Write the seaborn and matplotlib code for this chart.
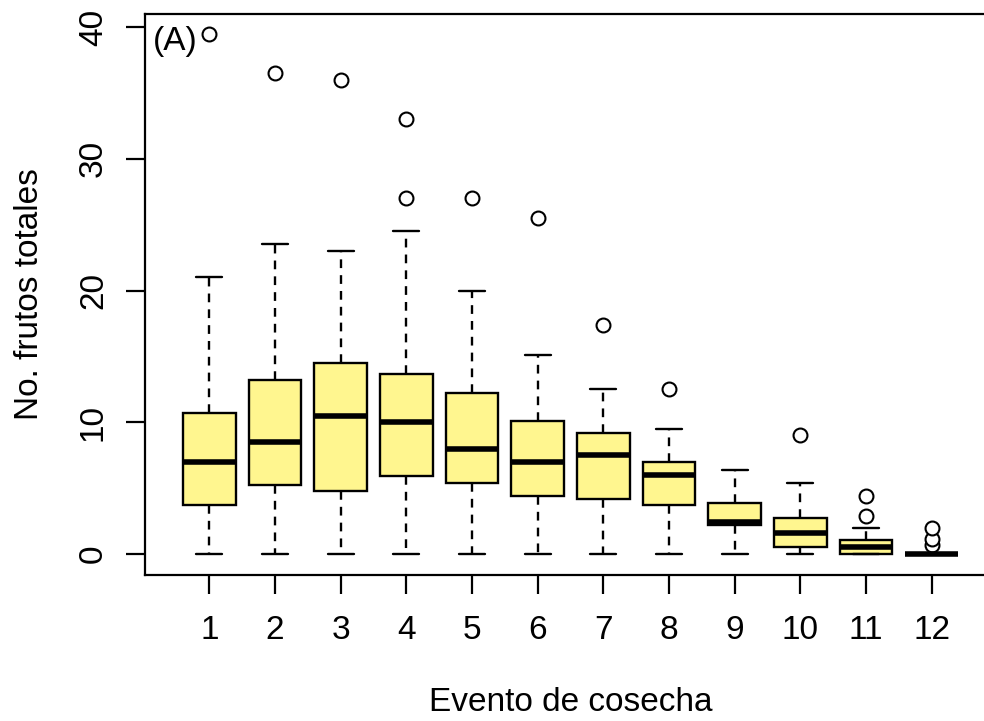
import matplotlib
matplotlib.use("Agg")
import matplotlib.pyplot as plt
import numpy as np
import pandas as pd
import seaborn as sns

# Summary statistics per harvest event (number of fruits)
eventos = [str(i) for i in range(1, 13)]
bigote_inf = [0.0, 0.0, 0.0, 0.0, 0.0, 0.0, 0.0, 0.0, 0.0, 0.0, 0.0, 0.0]
cuartil_1 = [3.7, 5.2, 4.8, 5.9, 5.4, 4.4, 4.2, 3.7, 2.2, 0.5, 0.0, 0.0]
mediana = [7.0, 8.5, 10.5, 10.0, 8.0, 7.0, 7.5, 6.0, 2.4, 1.6, 0.5, 0.0]
cuartil_3 = [10.7, 13.2, 14.5, 13.7, 12.2, 10.1, 9.2, 7.0, 3.9, 2.75, 1.05, 0.0]
bigote_sup = [21.0, 23.5, 23.0, 24.5, 20.0, 15.1, 12.5, 9.5, 6.4, 5.4, 2.0, 0.0]
atipicos = [[39.5], [36.5], [36.0], [27.0, 33.0], [27.0], [25.5], [17.4],
            [12.5], [], [9.0], [2.9, 4.4], [0.7, 1.1, 2.0]]


def muestra(lo, q1, med, q3, hi, out):
    """Ordered sample of 4m+1 values whose quartiles, whiskers and
    outliers reproduce the given five-number summary."""
    m = len(out) + 1
    return ([lo] * m + [q1] * m + [med] + [q3] * m
            + [hi] * (m - len(out)) + sorted(out))


filas = []
for ev, lo, q1, med, q3, hi, out in zip(eventos, bigote_inf, cuartil_1, mediana,
                                        cuartil_3, bigote_sup, atipicos):
    for v in muestra(lo, q1, med, q3, hi, out):
        filas.append({"evento": ev, "frutos": v})
df = pd.DataFrame(filas)

sns.set_theme(style="ticks", rc={
    "axes.edgecolor": "black", "axes.labelcolor": "black",
    "xtick.color": "black", "ytick.color": "black", "text.color": "black",
})
plt.rcParams["font.family"] = ["Liberation Sans", "DejaVu Sans"]

fig = plt.figure(figsize=(9.84, 7.21), dpi=100)
ax = fig.add_axes([145 / 984, (721 - 575) / 721, 851 / 984, 561 / 721])

sns.boxplot(
    data=df, x="evento", y="frutos", order=eventos, ax=ax,
    color="#FFF68F", saturation=1, width=0.8, linecolor="black",
    linewidth=1.7, fliersize=10,
    whiskerprops=dict(linestyle=(0, (3.7, 3))),
    medianprops=dict(linewidth=4.0, color="black"),
    flierprops=dict(marker="o", markersize=10, markerfacecolor="white",
                    markeredgecolor="black", markeredgewidth=1.5),
)

ax.set_xlim(-0.98, 11.98)
ax.set_ylim(-1.6, 41.0)
ax.set_yticks([0, 10, 20, 30, 40])
for s in ax.spines.values():
    s.set_linewidth(1.6)
    s.set_visible(True)

ax.tick_params(axis="both", length=14, width=1.6, labelsize=24)
ax.tick_params(axis="x", pad=15)
ax.tick_params(axis="y", pad=12, labelrotation=90)
for lbl in ax.get_yticklabels():
    lbl.set_va("center")

ax.set_xlabel("Evento de cosecha", fontsize=24, labelpad=29)
ax.set_ylabel("No. frutos totales", fontsize=24, labelpad=24)

ax.text(0.009, 0.978, "(A)", transform=ax.transAxes, ha="left", va="top",
        fontsize=24)

fig.savefig("out.png", dpi=100)
